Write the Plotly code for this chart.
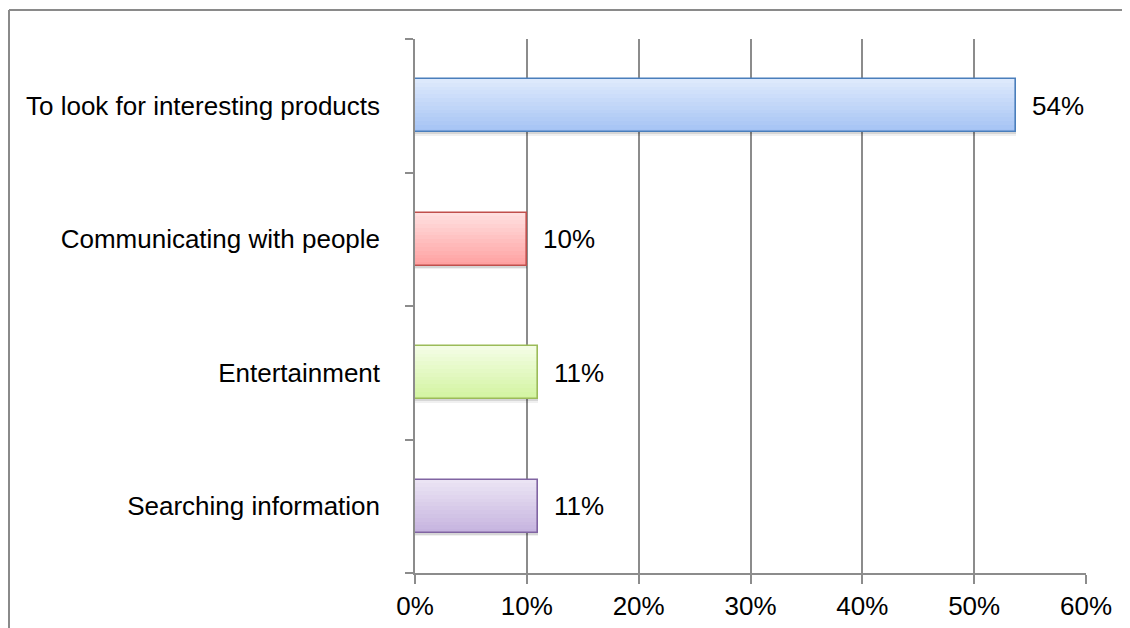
import plotly.graph_objects as go

# Data (bottom to top as drawn)
categories = ["Searching information", "Entertainment",
              "Communicating with people", "To look for interesting products"]
values = [11.0, 11.0, 10.0, 53.7]
labels = ["11%", "11%", "10%", "54%"]

# Styles
top_colors = ["#ebe4f4", "#f3fde4", "#ffdfdf", "#dde9fc"]
bottom_colors = ["#c6b4df", "#d3f4a1", "#ffa2a2", "#a5c3f4"]
border_colors = ["#8064a2", "#9bbb59", "#c0504d", "#4a7ebb"]

FONT = "Liberation Sans, Arial, Helvetica, sans-serif"
GRID = "#8c8c8c"
BAR_W = 0.4
N = 14


def hex2rgb(h):
    h = h.lstrip("#")
    return tuple(int(h[i:i + 2], 16) for i in (0, 2, 4))


def mix(c1, c2, t):
    a, b = hex2rgb(c1), hex2rgb(c2)
    return "rgb(%d,%d,%d)" % tuple(round(a[i] + (b[i] - a[i]) * t) for i in range(3))


fig = go.Figure()

# soft shadow under the bars
for off, w, a in [(-BAR_W / 2 - 0.012, 0.012, 0.16), (-BAR_W / 2 - 0.024, 0.012, 0.06)]:
    fig.add_trace(go.Bar(x=values, y=categories, orientation="h", width=w, offset=off,
                         marker=dict(color="rgba(0,0,0,%s)" % a, line=dict(width=0)),
                         hoverinfo="skip", showlegend=False))

# vertical gradient fill built from thin slices (bottom slice darkest)
sw = BAR_W / N
for k in range(N):
    t = k / (N - 1)
    cols = [mix(b, tc, t) for b, tc in zip(bottom_colors, top_colors)]
    fig.add_trace(go.Bar(x=values, y=categories, orientation="h",
                         width=sw * 1.02, offset=-BAR_W / 2 + k * sw,
                         marker=dict(color=cols, line=dict(width=0)),
                         hoverinfo="skip", showlegend=False))

# outline
fig.add_trace(go.Bar(x=values, y=categories, orientation="h", width=BAR_W,
                     marker=dict(color="rgba(0,0,0,0)",
                                 line=dict(color=border_colors, width=1.6)),
                     showlegend=False))

for v, c, lab in zip(values, categories, labels):
    fig.add_annotation(x=v, y=c, text=lab, showarrow=False, xanchor="left",
                       xshift=14, font=dict(family=FONT, size=26, color="#000"))

W, H = 1122, 620
L, R, T, B = 407, 44, 31, 55
pw, ph = W - L - R, H - T - B
fx = (1 - L) / pw
fy = (H - B - 2) / ph
fig.add_shape(type="line", xref="paper", yref="paper", x0=fx, x1=fx, y0=-0.3, y1=fy,
              line=dict(color="#8a8a8a", width=2))
fig.add_shape(type="line", xref="paper", yref="paper", x0=fx, x1=1.2, y0=fy, y1=fy,
              line=dict(color="#8a8a8a", width=2))

fig.update_layout(
    width=W, height=H,
    margin=dict(l=L, r=R, t=T, b=B, autoexpand=False),
    paper_bgcolor="white", plot_bgcolor="white",
    barmode="overlay", bargap=0,
    font=dict(family=FONT, size=26, color="#000"),
    xaxis=dict(range=[0, 60], dtick=10, ticksuffix="%", showgrid=True,
               gridcolor=GRID, gridwidth=1.5, showline=True, linecolor=GRID, linewidth=1.5,
               ticks="outside", ticklen=9, tickcolor=GRID, tickwidth=1.5,
               ticklabelstandoff=0, automargin=False,
               zeroline=False, tickfont=dict(size=26), fixedrange=True),
    yaxis=dict(type="category", categoryorder="array", categoryarray=categories,
               range=[-0.5, 3.5], showgrid=False, showline=True, linecolor=GRID,
               linewidth=1.5, ticks="outside", ticklen=8, tickcolor=GRID, tickwidth=1.5,
               tickson="boundaries", ticklabelstandoff=28, tickfont=dict(size=26),
               automargin=False, zeroline=False, fixedrange=True),
)

fig.write_html("out.html")
